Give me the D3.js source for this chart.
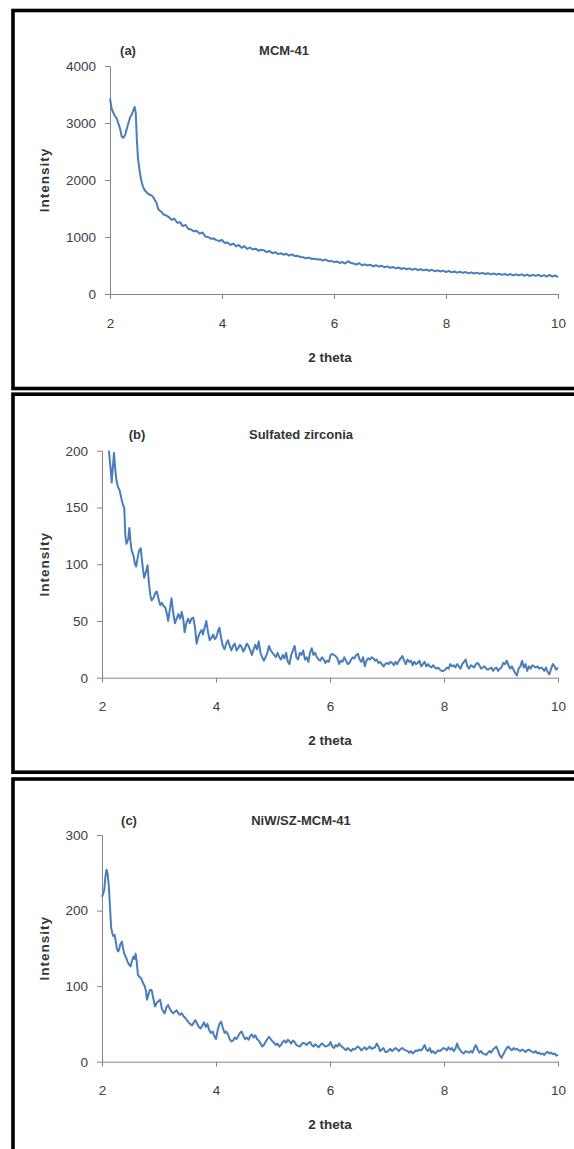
<!DOCTYPE html>
<html>
<head>
<meta charset="utf-8">
<script src="https://cdn.jsdelivr.net/npm/d3@7"></script>
<style>
  html, body { margin: 0; padding: 0; background: #fff; }
  svg { display: block; }
  .tick text { font-family: "Liberation Sans", Arial, sans-serif; font-size: 13.5px; fill: #404040; }
  .lab { font-family: "Liberation Sans", Arial, sans-serif; font-weight: bold; fill: #333; }
</style>
</head>
<body>
<script>
// XRD patterns, low-angle region (2 theta from 2 to 10 degrees)
const xTicks = [2, 4, 6, 8, 10];

// (a) MCM-41
const thetaA = [2.00,2.03,2.06,2.09,2.12,2.15,2.18,2.21,2.24,2.27,2.30,2.33,2.36,2.39,2.42,2.44,2.46,2.48,2.50,2.53,2.56,2.59,2.62,2.65,2.68,2.71,2.74,2.77,2.80,2.83,2.86,2.89,2.92,2.95,3.00,3.05,3.10,3.15,3.20,3.25,3.30,3.35,3.40,3.45,3.50,3.55,3.60,3.65,3.70,3.75,3.80,3.85,3.90,3.95,4.00,4.05,4.10,4.15,4.20,4.25,4.30,4.35,4.40,4.45,4.50,4.55,4.60,4.65,4.70,4.75,4.80,4.85,4.90,4.95,5.00,5.05,5.10,5.15,5.20,5.25,5.30,5.35,5.40,5.45,5.50,5.55,5.60,5.65,5.70,5.75,5.80,5.85,5.90,5.95,6.00,6.05,6.10,6.15,6.20,6.25,6.30,6.35,6.40,6.45,6.50,6.55,6.60,6.65,6.70,6.75,6.80,6.85,6.90,6.95,7.00,7.05,7.10,7.15,7.20,7.25,7.30,7.35,7.40,7.45,7.50,7.55,7.60,7.65,7.70,7.75,7.80,7.85,7.90,7.95,8.00,8.05,8.10,8.15,8.20,8.25,8.30,8.35,8.40,8.45,8.50,8.55,8.60,8.65,8.70,8.75,8.80,8.85,8.90,8.95,9.00,9.05,9.10,9.15,9.20,9.25,9.30,9.35,9.40,9.45,9.50,9.55,9.60,9.65,9.70,9.75,9.80,9.85,9.90,9.95,10.00];
const intensityA = [3430,3250,3180,3120,3080,2990,2900,2760,2740,2790,2900,3000,3100,3150,3230,3280,3180,2700,2380,2150,1980,1880,1820,1790,1760,1740,1730,1700,1650,1600,1490,1460,1440,1400,1380,1350,1300,1320,1250,1260,1190,1210,1140,1130,1100,1105,1060,1080,1010,1000,970,975,945,930,950,895,905,860,885,835,860,810,840,790,815,780,795,760,775,765,735,755,715,735,700,715,690,705,675,695,665,670,650,645,625,640,615,620,605,610,585,605,575,580,560,570,545,560,535,575,545,535,515,540,505,520,500,515,485,505,480,495,470,485,460,475,450,465,440,455,435,450,425,445,420,435,415,430,405,425,400,415,395,410,385,405,380,395,375,390,370,385,365,380,360,375,355,370,350,365,345,360,340,355,335,350,330,350,325,345,330,345,320,340,315,335,320,335,310,330,305,335,305,325,295,315];
const yTicksA = [0, 1000, 2000, 3000, 4000];

// (b) Sulfated zirconia
const thetaB = [2.12,2.15,2.17,2.19,2.21,2.23,2.25,2.28,2.31,2.34,2.37,2.39,2.41,2.43,2.46,2.48,2.50,2.52,2.55,2.58,2.60,2.62,2.65,2.68,2.70,2.72,2.74,2.77,2.80,2.82,2.85,2.87,2.90,2.93,2.96,2.99,3.02,3.05,3.08,3.11,3.14,3.16,3.19,3.22,3.25,3.28,3.31,3.34,3.37,3.40,3.43,3.45,3.48,3.51,3.54,3.57,3.60,3.63,3.66,3.69,3.72,3.75,3.77,3.80,3.83,3.86,3.89,3.92,3.95,3.98,4.01,4.04,4.06,4.09,4.12,4.15,4.18,4.21,4.24,4.27,4.30,4.33,4.36,4.39,4.42,4.45,4.48,4.51,4.54,4.57,4.60,4.63,4.66,4.69,4.72,4.75,4.78,4.81,4.84,4.87,4.90,4.93,4.96,4.99,5.02,5.05,5.08,5.11,5.14,5.17,5.20,5.23,5.26,5.29,5.32,5.35,5.38,5.41,5.44,5.47,5.50,5.53,5.56,5.59,5.62,5.65,5.68,5.71,5.74,5.77,5.80,5.83,5.86,5.89,5.92,5.95,5.98,6.01,6.04,6.07,6.10,6.13,6.16,6.19,6.22,6.25,6.28,6.31,6.34,6.37,6.40,6.43,6.46,6.49,6.52,6.55,6.58,6.61,6.64,6.67,6.70,6.73,6.76,6.79,6.82,6.85,6.88,6.91,6.94,6.97,7.00,7.03,7.06,7.09,7.12,7.15,7.18,7.21,7.24,7.27,7.30,7.33,7.36,7.39,7.42,7.45,7.48,7.51,7.54,7.57,7.60,7.63,7.66,7.69,7.72,7.75,7.78,7.81,7.84,7.87,7.90,7.93,7.96,7.99,8.02,8.05,8.08,8.11,8.14,8.17,8.20,8.23,8.26,8.29,8.32,8.35,8.38,8.41,8.44,8.47,8.50,8.53,8.56,8.59,8.62,8.65,8.68,8.71,8.74,8.77,8.80,8.83,8.86,8.89,8.92,8.95,8.98,9.01,9.04,9.07,9.10,9.13,9.16,9.19,9.22,9.25,9.28,9.31,9.34,9.37,9.40,9.43,9.46,9.49,9.52,9.55,9.58,9.61,9.64,9.67,9.70,9.73,9.76,9.79,9.82,9.85,9.88,9.91,9.94,9.97,10.00];
const intensityB = [200,185,172,185,198,185,175,168,165,158,152,150,125,118,122,132,120,112,108,100,98,104,112,114,104,95,88,93,99,85,72,68,70,74,76,70,64,66,63,62,56,50,60,70,57,48,52,56,52,58,50,40,48,52,48,52,53,45,30,36,40,42,38,44,50,40,33,35,38,34,36,42,44,35,28,25,30,33,28,24,28,30,24,26,29,27,23,26,30,28,24,20,25,29,25,32,22,18,15,18,22,28,24,22,20,18,22,18,16,20,17,22,14,12,20,24,28,18,16,22,20,24,16,18,14,22,26,20,22,18,16,15,18,16,13,15,14,20,21,20,19,17,12,15,14,18,15,12,13,16,18,17,20,21,16,14,18,10,15,17,16,18,17,15,16,13,14,12,10,12,13,12,14,13,11,14,12,15,17,19,15,12,16,14,15,11,14,12,13,15,10,12,14,10,12,10,9,11,9,8,9,7,6,6,7,9,8,12,10,11,9,12,10,8,12,14,16,10,8,11,10,9,12,13,11,8,9,10,8,7,8,9,6,8,9,6,8,9,13,12,15,11,8,10,7,4,2,8,10,15,9,12,6,10,8,11,10,9,10,8,9,8,6,9,5,3,8,12,10,7,9];
const yTicksB = [0, 50, 100, 150, 200];

// (c) NiW/SZ-MCM-41
const thetaC = [2.00,2.02,2.04,2.06,2.08,2.10,2.12,2.14,2.16,2.18,2.20,2.22,2.24,2.26,2.28,2.30,2.32,2.35,2.37,2.39,2.42,2.45,2.48,2.50,2.52,2.55,2.57,2.59,2.61,2.63,2.66,2.69,2.72,2.75,2.77,2.79,2.81,2.84,2.87,2.90,2.93,2.96,2.99,3.02,3.05,3.08,3.10,3.13,3.16,3.19,3.22,3.25,3.28,3.31,3.34,3.37,3.40,3.43,3.46,3.49,3.52,3.55,3.58,3.61,3.64,3.67,3.70,3.73,3.76,3.79,3.82,3.85,3.88,3.91,3.94,3.97,4.00,4.03,4.06,4.09,4.12,4.15,4.18,4.21,4.24,4.27,4.30,4.33,4.36,4.39,4.42,4.45,4.48,4.51,4.54,4.57,4.60,4.63,4.66,4.69,4.72,4.75,4.78,4.81,4.84,4.87,4.90,4.93,4.96,4.99,5.02,5.05,5.08,5.11,5.14,5.17,5.20,5.23,5.26,5.29,5.32,5.35,5.38,5.41,5.44,5.47,5.50,5.53,5.56,5.59,5.62,5.65,5.68,5.71,5.74,5.77,5.80,5.83,5.86,5.89,5.92,5.95,5.98,6.01,6.04,6.07,6.10,6.13,6.16,6.19,6.22,6.25,6.28,6.31,6.34,6.37,6.40,6.43,6.46,6.49,6.52,6.55,6.58,6.61,6.64,6.67,6.70,6.73,6.76,6.79,6.82,6.85,6.88,6.91,6.94,6.97,7.00,7.03,7.06,7.09,7.12,7.15,7.18,7.21,7.24,7.27,7.30,7.33,7.36,7.39,7.42,7.45,7.48,7.51,7.54,7.57,7.60,7.63,7.66,7.69,7.72,7.75,7.78,7.81,7.84,7.87,7.90,7.93,7.96,7.99,8.02,8.05,8.08,8.11,8.14,8.17,8.20,8.23,8.26,8.29,8.32,8.35,8.38,8.41,8.44,8.47,8.50,8.53,8.56,8.59,8.62,8.65,8.68,8.71,8.74,8.77,8.80,8.83,8.86,8.89,8.92,8.95,8.98,9.01,9.04,9.07,9.10,9.13,9.16,9.19,9.22,9.25,9.28,9.31,9.34,9.37,9.40,9.43,9.46,9.49,9.52,9.55,9.58,9.61,9.64,9.67,9.70,9.73,9.76,9.79,9.82,9.85,9.88,9.91,9.94,9.97,10.00];
const intensityC = [218,222,228,245,254,248,232,205,178,170,166,168,160,150,146,148,155,159,150,143,138,132,128,126,132,139,136,143,132,115,112,110,104,100,94,82,88,95,95,84,73,78,80,82,70,66,64,72,75,70,66,64,66,68,64,62,64,60,58,55,52,50,48,52,55,50,46,44,48,52,46,50,42,38,40,34,30,42,50,53,45,38,40,36,30,27,28,32,30,34,38,40,34,30,32,29,34,36,32,35,30,28,24,20,22,26,30,33,30,27,25,22,24,20,22,26,28,25,29,27,24,28,26,22,21,20,23,25,24,22,25,26,22,20,23,21,19,22,24,22,20,21,22,26,20,18,22,20,24,21,19,17,15,18,16,14,17,16,18,20,18,15,17,19,16,18,20,17,18,19,24,20,14,16,18,13,13,15,17,14,16,18,16,14,17,18,16,15,14,12,14,11,13,15,14,16,15,18,22,16,14,18,12,14,11,13,15,14,16,18,17,15,19,16,18,14,17,24,18,15,12,11,14,13,12,14,12,18,22,16,12,14,11,10,9,12,14,12,16,18,20,14,8,5,10,14,18,20,17,15,18,16,17,15,14,16,15,13,15,16,14,13,12,14,11,12,10,11,9,12,13,11,12,10,11,8,9];
const yTicksC = [0, 100, 200, 300];

const W = 574, H = 1149;
const svg = d3.select("body").append("svg").attr("width", W).attr("height", H);

// One framed chart: border box, axes, trace and labels
function drawPanel(p) {
  svg.append("rect")
    .attr("x", 13).attr("y", p.boxTop)
    .attr("width", 600).attr("height", p.boxBottom - p.boxTop)
    .attr("fill", "none").attr("stroke", "#000").attr("stroke-width", 3.6);

  const x = d3.scaleLinear().domain([2, 10]).range([p.left, 558]);
  const y = d3.scaleLinear().domain([0, p.yMax]).range([p.bottom, p.top]);

  const g = svg.append("g");

  const yAxis = g.append("g").attr("transform", `translate(${p.left},0)`)
    .call(d3.axisLeft(y).tickValues(p.yTicks).tickFormat(d3.format("d"))
      .tickSize(5).tickPadding(9).tickSizeOuter(0));
  const xAxis = g.append("g").attr("transform", `translate(0,${p.bottom})`)
    .call(d3.axisBottom(x).tickValues(xTicks).tickFormat(d3.format("d"))
      .tickSize(5).tickPadding(19).tickSizeOuter(0));
  [yAxis, xAxis].forEach(a => {
    a.select(".domain").attr("stroke", "#868686");
    a.selectAll(".tick line").attr("stroke", "#868686");
    a.attr("font-family", null).attr("font-size", null);
  });

  const pts = p.theta.map((t, i) => [t, p.values[i]]);
  g.append("path")
    .datum(pts)
    .attr("fill", "none")
    .attr("stroke", "#4a7ebb")
    .attr("stroke-width", 2)
    .attr("stroke-linejoin", "round")
    .attr("d", d3.line().x(d => x(d[0])).y(d => y(d[1])));

  g.append("text").attr("class", "lab")
    .attr("x", p.tagX).attr("y", p.titleY).attr("dy", "0.35em")
    .attr("text-anchor", "middle").attr("font-size", 13)
    .text(p.tag);
  g.append("text").attr("class", "lab")
    .attr("x", p.titleX).attr("y", p.titleY).attr("dy", "0.35em")
    .attr("text-anchor", "middle").attr("font-size", 13)
    .text(p.title);
  g.append("text").attr("class", "lab")
    .attr("x", 330).attr("y", p.bottom + 63).attr("dy", "0.35em")
    .attr("text-anchor", "middle").attr("font-size", 13.5)
    .text("2 theta");
  g.append("text").attr("class", "lab")
    .attr("transform", `translate(44,${(p.top + p.bottom) / 2}) rotate(-90)`)
    .attr("dy", "0.35em")
    .attr("text-anchor", "middle").attr("font-size", 13.5)
    .attr("letter-spacing", 1)
    .text("Intensity");
}

drawPanel({ boxTop: 10.5, boxBottom: 388.5, left: 110, top: 66, bottom: 294,
  yMax: 4000, yTicks: yTicksA, theta: thetaA, values: intensityA,
  tag: "(a)", tagX: 128, title: "MCM-41", titleX: 284, titleY: 50 });

drawPanel({ boxTop: 394.2, boxBottom: 772.2, left: 102, top: 450.7, bottom: 677.7,
  yMax: 200, yTicks: yTicksB, theta: thetaB, values: intensityB,
  tag: "(b)", tagX: 137, title: "Sulfated zirconia", titleX: 301, titleY: 434 });

drawPanel({ boxTop: 779, boxBottom: 1170, left: 102, top: 835, bottom: 1061.7,
  yMax: 300, yTicks: yTicksC, theta: thetaC, values: intensityC,
  tag: "(c)", tagX: 129, title: "NiW/SZ-MCM-41", titleX: 301, titleY: 820 });
</script>
</body>
</html>
